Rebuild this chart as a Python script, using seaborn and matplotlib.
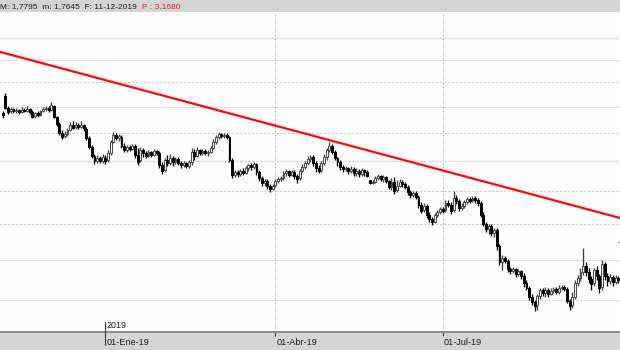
import numpy as np
import pandas as pd
import matplotlib
matplotlib.use("Agg")
import matplotlib.pyplot as plt
import matplotlib.transforms as mtransforms
from matplotlib.ticker import NullLocator
import seaborn as sns

# ---------------- data (daily OHLC, bar index 0 = mid-Nov 2018) ----------------
OPENS = [
    1.476, 1.544, 1.496, 1.484, 1.492, 1.484, 1.488, 1.480, 1.488, 1.484,
    1.492, 1.480, 1.464, 1.476, 1.468, 1.484, 1.492, 1.496, 1.488, 1.504,
    1.460, 1.434, 1.400, 1.389, 1.396, 1.411, 1.430, 1.422, 1.430, 1.422,
    1.430, 1.415, 1.382, 1.349, 1.317, 1.300, 1.310, 1.300, 1.310, 1.304,
    1.328, 1.367, 1.393, 1.382, 1.385, 1.353, 1.338, 1.349, 1.342, 1.353,
    1.321, 1.304, 1.338, 1.328, 1.317, 1.331, 1.321, 1.335, 1.328, 1.286,
    1.269, 1.304, 1.293, 1.310, 1.297, 1.307, 1.293, 1.286, 1.293, 1.283,
    1.297, 1.331, 1.317, 1.338, 1.328, 1.335, 1.328, 1.331, 1.345, 1.367,
    1.385, 1.396, 1.389, 1.393, 1.385, 1.304, 1.253, 1.263, 1.256, 1.266,
    1.259, 1.276, 1.286, 1.280, 1.290, 1.263, 1.243, 1.227, 1.233, 1.217,
    1.207, 1.220, 1.233, 1.240, 1.243, 1.259, 1.266, 1.253, 1.263, 1.250,
    1.243, 1.266, 1.280, 1.293, 1.307, 1.314, 1.293, 1.276, 1.269, 1.293,
    1.314, 1.338, 1.353, 1.331, 1.310, 1.297, 1.280, 1.273, 1.276, 1.266,
    1.273, 1.259, 1.266, 1.256, 1.269, 1.263, 1.236, 1.227, 1.230, 1.243,
    1.250, 1.240, 1.246, 1.233, 1.214, 1.230, 1.204, 1.217, 1.230, 1.223,
    1.214, 1.198, 1.188, 1.194, 1.182, 1.157, 1.142, 1.154, 1.127, 1.115,
    1.106, 1.127, 1.136, 1.145, 1.142, 1.163, 1.157, 1.142, 1.179, 1.170,
    1.148, 1.154, 1.166, 1.176, 1.170, 1.179, 1.173, 1.163, 1.127, 1.100,
    1.086, 1.095, 1.075, 1.083, 1.038, 0.995, 1.006, 0.998, 0.977, 0.972,
    0.977, 0.964, 0.972, 0.959, 0.941, 0.929, 0.907, 0.895, 0.888, 0.910,
    0.924, 0.917, 0.924, 0.915, 0.922, 0.927, 0.919, 0.929, 0.932, 0.927,
    0.898, 0.888, 0.907, 0.941, 0.954, 0.969, 0.985, 0.969, 0.951, 0.941,
    0.974, 0.959, 0.932, 0.990, 0.959, 0.946, 0.956, 0.944, 0.954,
]
HIGHS = [
    1.484, 1.556, 1.504, 1.500, 1.496, 1.496, 1.492, 1.500, 1.496, 1.504,
    1.496, 1.488, 1.480, 1.484, 1.488, 1.500, 1.504, 1.504, 1.520, 1.508,
    1.464, 1.441, 1.411, 1.407, 1.419, 1.441, 1.445, 1.441, 1.437, 1.445,
    1.434, 1.422, 1.389, 1.356, 1.324, 1.321, 1.317, 1.324, 1.321, 1.338,
    1.374, 1.404, 1.400, 1.396, 1.393, 1.363, 1.356, 1.356, 1.360, 1.360,
    1.345, 1.349, 1.345, 1.335, 1.338, 1.335, 1.342, 1.338, 1.335, 1.297,
    1.310, 1.321, 1.324, 1.317, 1.314, 1.314, 1.300, 1.300, 1.297, 1.304,
    1.345, 1.342, 1.349, 1.342, 1.342, 1.342, 1.338, 1.353, 1.378, 1.393,
    1.404, 1.400, 1.400, 1.400, 1.389, 1.310, 1.269, 1.269, 1.273, 1.276,
    1.283, 1.290, 1.293, 1.297, 1.293, 1.269, 1.250, 1.240, 1.240, 1.223,
    1.223, 1.240, 1.246, 1.250, 1.266, 1.273, 1.269, 1.269, 1.269, 1.256,
    1.273, 1.290, 1.300, 1.317, 1.321, 1.321, 1.300, 1.286, 1.300, 1.324,
    1.345, 1.367, 1.360, 1.338, 1.314, 1.304, 1.286, 1.283, 1.280, 1.283,
    1.280, 1.276, 1.273, 1.276, 1.273, 1.269, 1.236, 1.236, 1.250, 1.256,
    1.253, 1.253, 1.250, 1.236, 1.243, 1.246, 1.236, 1.240, 1.236, 1.230,
    1.220, 1.204, 1.201, 1.201, 1.188, 1.166, 1.163, 1.160, 1.136, 1.121,
    1.133, 1.142, 1.151, 1.151, 1.173, 1.173, 1.166, 1.201, 1.188, 1.176,
    1.163, 1.173, 1.182, 1.182, 1.185, 1.185, 1.179, 1.170, 1.136, 1.106,
    1.100, 1.100, 1.089, 1.089, 1.044, 1.014, 1.011, 1.003, 0.982, 0.982,
    0.979, 0.977, 0.974, 0.966, 0.949, 0.934, 0.915, 0.900, 0.915, 0.929,
    0.929, 0.932, 0.929, 0.929, 0.932, 0.932, 0.936, 0.936, 0.936, 0.932,
    0.902, 0.919, 0.949, 0.962, 0.979, 1.033, 0.995, 0.979, 0.959, 0.979,
    0.985, 0.964, 1.000, 0.995, 0.966, 0.964, 0.962, 0.962, 0.959,
]
LOWS = [
    1.457, 1.492, 1.472, 1.476, 1.476, 1.476, 1.472, 1.476, 1.480, 1.480,
    1.472, 1.457, 1.457, 1.460, 1.464, 1.480, 1.484, 1.480, 1.484, 1.457,
    1.426, 1.393, 1.378, 1.382, 1.389, 1.407, 1.415, 1.415, 1.415, 1.419,
    1.407, 1.374, 1.342, 1.310, 1.290, 1.293, 1.293, 1.293, 1.290, 1.297,
    1.321, 1.363, 1.374, 1.371, 1.345, 1.331, 1.331, 1.335, 1.338, 1.310,
    1.286, 1.297, 1.314, 1.310, 1.314, 1.314, 1.317, 1.321, 1.276, 1.256,
    1.263, 1.283, 1.286, 1.283, 1.290, 1.286, 1.276, 1.280, 1.276, 1.276,
    1.286, 1.304, 1.314, 1.321, 1.321, 1.321, 1.317, 1.328, 1.342, 1.360,
    1.378, 1.382, 1.382, 1.378, 1.297, 1.243, 1.246, 1.246, 1.250, 1.253,
    1.256, 1.266, 1.269, 1.273, 1.253, 1.233, 1.217, 1.217, 1.207, 1.198,
    1.204, 1.214, 1.227, 1.233, 1.236, 1.250, 1.246, 1.250, 1.240, 1.227,
    1.236, 1.263, 1.273, 1.286, 1.297, 1.283, 1.263, 1.259, 1.263, 1.286,
    1.304, 1.331, 1.324, 1.304, 1.283, 1.269, 1.263, 1.266, 1.256, 1.259,
    1.250, 1.250, 1.246, 1.250, 1.250, 1.246, 1.223, 1.223, 1.227, 1.236,
    1.233, 1.230, 1.227, 1.207, 1.204, 1.191, 1.198, 1.214, 1.214, 1.207,
    1.188, 1.179, 1.182, 1.176, 1.148, 1.133, 1.136, 1.118, 1.106, 1.098,
    1.103, 1.121, 1.130, 1.133, 1.136, 1.151, 1.130, 1.136, 1.160, 1.139,
    1.142, 1.148, 1.160, 1.163, 1.166, 1.163, 1.154, 1.121, 1.095, 1.077,
    1.072, 1.066, 1.063, 1.027, 0.987, 0.974, 0.993, 0.969, 0.964, 0.966,
    0.956, 0.959, 0.951, 0.932, 0.924, 0.900, 0.888, 0.874, 0.876, 0.902,
    0.910, 0.907, 0.907, 0.912, 0.917, 0.915, 0.915, 0.924, 0.922, 0.893,
    0.876, 0.881, 0.902, 0.934, 0.946, 0.962, 0.959, 0.941, 0.924, 0.934,
    0.949, 0.917, 0.924, 0.949, 0.934, 0.939, 0.934, 0.939, 0.941,
]
CLOSES = [
    1.468, 1.496, 1.480, 1.492, 1.484, 1.488, 1.480, 1.488, 1.484, 1.492,
    1.480, 1.460, 1.476, 1.468, 1.484, 1.492, 1.496, 1.488, 1.508, 1.460,
    1.434, 1.400, 1.385, 1.396, 1.411, 1.430, 1.419, 1.430, 1.422, 1.430,
    1.419, 1.382, 1.349, 1.317, 1.300, 1.310, 1.300, 1.314, 1.300, 1.328,
    1.367, 1.393, 1.382, 1.389, 1.353, 1.338, 1.349, 1.342, 1.353, 1.321,
    1.297, 1.338, 1.328, 1.317, 1.331, 1.321, 1.335, 1.328, 1.286, 1.266,
    1.304, 1.293, 1.310, 1.297, 1.307, 1.293, 1.286, 1.293, 1.283, 1.297,
    1.331, 1.317, 1.338, 1.328, 1.335, 1.328, 1.331, 1.345, 1.367, 1.385,
    1.396, 1.389, 1.393, 1.385, 1.304, 1.253, 1.263, 1.256, 1.266, 1.259,
    1.276, 1.286, 1.280, 1.290, 1.263, 1.243, 1.227, 1.233, 1.217, 1.207,
    1.217, 1.233, 1.240, 1.243, 1.259, 1.266, 1.253, 1.263, 1.250, 1.240,
    1.266, 1.280, 1.293, 1.307, 1.314, 1.293, 1.276, 1.266, 1.293, 1.314,
    1.338, 1.353, 1.331, 1.310, 1.297, 1.280, 1.273, 1.276, 1.266, 1.273,
    1.259, 1.266, 1.256, 1.269, 1.263, 1.250, 1.227, 1.230, 1.243, 1.250,
    1.240, 1.246, 1.233, 1.214, 1.230, 1.201, 1.217, 1.230, 1.223, 1.214,
    1.198, 1.188, 1.194, 1.182, 1.157, 1.139, 1.154, 1.127, 1.115, 1.106,
    1.127, 1.136, 1.145, 1.139, 1.163, 1.157, 1.139, 1.179, 1.170, 1.148,
    1.154, 1.166, 1.176, 1.170, 1.179, 1.173, 1.163, 1.127, 1.100, 1.086,
    1.095, 1.075, 1.083, 1.038, 0.995, 1.006, 0.998, 0.977, 0.972, 0.977,
    0.964, 0.972, 0.959, 0.941, 0.929, 0.907, 0.895, 0.886, 0.910, 0.924,
    0.917, 0.924, 0.915, 0.922, 0.927, 0.919, 0.929, 0.932, 0.927, 0.898,
    0.886, 0.907, 0.941, 0.954, 0.969, 0.985, 0.969, 0.951, 0.939, 0.974,
    0.959, 0.929, 0.990, 0.959, 0.946, 0.956, 0.944, 0.954, 0.949,
]

# x-axis date marks (bar index of first session of each quarter)
TICK_POS = [38, 101, 163]
TICK_LABELS = ["01-Ene-19", "01-Abr-19", "01-Jul-19"]
YEAR_POS = 38
YEAR_LABEL = "2019"
VGRID_POS = [101, 163]

# horizontal price grid levels
YGRID = [0.9, 1.0, 1.1, 1.2, 1.3, 1.4, 1.5, 1.6, 1.7, 1.8]

# resistance trend line (two anchor points: bar index, price)
TREND_X = [-1.0, 229.0]
TREND_Y = [1.735, 1.117]

# last quote marker
LAST_MARK_X = [228.1, 228.63]
LAST_MARK_Y = [1.049, 1.049]

HEADER_INFO = "M: 1,7795  m: 1,7645  F: 11-12-2019"
HEADER_PRICE = "P : 3,1680"

# ---------------- figure ----------------
sns.set_style("white")
plt.rcParams["font.family"] = ["Liberation Sans", "DejaVu Sans"]

W, H = 620, 350
fig = plt.figure(figsize=(W / 100, H / 100), dpi=100)
fig.patch.set_facecolor("#d5d5d5")

ax_bottom_px = 332
ax_top_px = 12
ax = fig.add_axes([0, (H - ax_bottom_px) / H, 1, (ax_bottom_px - ax_top_px) / H])
ax.set_facecolor("#fcfdfc")
ax.set_yscale("log")
YLIM = (0.8266, 1.9282)

# grid
ax.yaxis.set_minor_locator(NullLocator())
ax.set_yticks(YGRID)
ax.tick_params(axis="y", left=False, labelleft=False, which="both")
ax.grid(False)
for yv in YGRID:
    ax.axhline(yv, color="#c2c2c2", lw=0.8, ls=(0, (1.6, 2.0)), zorder=0)
for xv in VGRID_POS:
    ax.axvline(xv, color="#c2c2c2", lw=0.8, ls=(0, (1.6, 2.0)), zorder=0)

# candles
o = np.array(OPENS); h = np.array(HIGHS); l = np.array(LOWS); c = np.array(CLOSES)
x = np.arange(len(c))
up = c >= o
wick_cols = np.where(up, "#404040", "#000000")
ax.vlines(x, l, h, colors=wick_cols, lw=0.95, zorder=2)
bot = np.minimum(o, c)
top = np.maximum(np.maximum(o, c), bot * 1.002)
ax.bar(x[up], top[up] - bot[up], bottom=bot[up], width=0.7, color="#f4f4f4",
       edgecolor="#4a4a4a", linewidth=0.7, zorder=3)
ax.bar(x[~up], top[~up] - bot[~up], bottom=bot[~up], width=0.7, color="black",
       edgecolor="black", linewidth=0.7, zorder=3)

# trend line
trend = pd.DataFrame({"x": TREND_X, "y": TREND_Y})
sns.lineplot(data=trend, x="x", y="y", color="#ff0a0a", lw=1.6, ax=ax, zorder=4)
ax.plot(LAST_MARK_X, LAST_MARK_Y, color="#3a6fd8", lw=1.0, zorder=4)
ax.set_xlabel(""); ax.set_ylabel("")
ax.set_xlim(-1, 228.63)
ax.set_ylim(*YLIM)

# spines
for s in ["top", "left", "right"]:
    ax.spines[s].set_visible(False)
ax.spines["bottom"].set_color("#8a8a8a")
ax.spines["bottom"].set_linewidth(1.4)

# x ticks
ax.set_xticks(TICK_POS)
ax.set_xticklabels(TICK_LABELS)
ax.tick_params(axis="x", bottom=True, direction="out", length=3.0, width=0.8,
               color="#404040", pad=1.4, labelsize=6.6, labelcolor="#202020")
offset = mtransforms.ScaledTranslation(1 / 100, 0, fig.dpi_scale_trans)
for lbl in ax.get_xticklabels():
    lbl.set_ha("left")
    lbl.set_transform(lbl.get_transform() + offset)

# year marker
blend = mtransforms.blended_transform_factory(ax.transData, ax.transAxes)
ax.plot([YEAR_POS, YEAR_POS], [-0.042, 0.03], transform=blend, clip_on=False,
        color="#404040", lw=0.8, zorder=5)
ax.text(YEAR_POS + 0.5, 0.02, YEAR_LABEL, transform=blend, ha="left", va="center",
        fontsize=6.4, color="#202020")

# header
fig.text(137 / W, 1 - 6.5 / H, HEADER_INFO, ha="right", va="center",
         fontsize=6.0, color="#202020")
fig.text(142 / W, 1 - 6.5 / H, HEADER_PRICE, ha="left", va="center",
         fontsize=6.0, color="#e8202a")

fig.savefig("out.png", dpi=100, facecolor=fig.get_facecolor())
